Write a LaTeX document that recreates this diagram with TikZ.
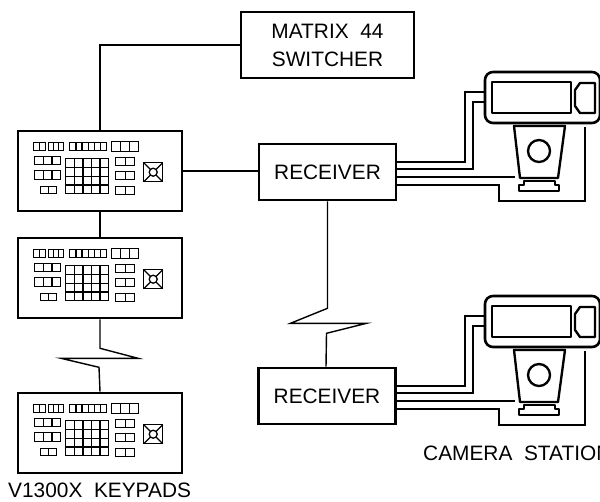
\documentclass[tikz,border=0pt]{standalone}
\usepackage{fontspec}
\setmainfont{Liberation Sans}
\usetikzlibrary{calc}

\tikzset{
  unit/.style={draw, line width=2.2pt, minimum width=#1},
  wire/.style={line width=1.2pt},
  part/.style={line width=2pt, line join=round},
  every node/.style={font=\fontsize{17.8}{24}\selectfont}
}

% one row of keys: x, y, width, height, number of keys
\newcommand{\keyrow}[5]{%
  \foreach \k in {1,...,#5}
    \draw ({#1+(\k-1)*(#3)/#5},#2) rectangle +({(#3)/#5},#4);}

% the face of a keypad, drawn inside the node #1
\newcommand{\keyface}[1]{%
  \begin{scope}[shift={(#1.north west)}, line width=1.1pt]
    \keyrow{17}{13}{12}{8}{2}
    \keyrow{32}{13}{15}{8}{3}
    \keyrow{53}{13}{37}{8}{6}
    \keyrow{95}{12}{27}{10}{3}
    \keyrow{18}{27}{26}{8}{3}
    \keyrow{18}{41}{26}{9}{3}
    \keyrow{24}{57}{16}{7}{2}
    \keyrow{99}{28}{19}{8}{2}
    \keyrow{99}{42}{19}{8}{2}
    \keyrow{99}{57}{19}{8}{2}
    \foreach \c in {0,...,4}
      \foreach \r in {0,...,3}
        \draw ({49+\c*8.6},{29+\r*8.75}) rectangle +(8.6,8.75);
    \draw (127,33) rectangle (146,52);
    \draw (136.5,42.5) circle[radius=0.12cm];
    \draw (127,33) -- (133.7,39.7);
    \draw (146,33) -- (139.3,39.7);
    \draw (127,52) -- (133.7,45.3);
    \draw (146,52) -- (139.3,45.3);
  \end{scope}}

\begin{document}
\begin{tikzpicture}[x=0.03cm, y=-0.03cm]
  \useasboundingbox (0,0) rectangle (600,501);

  \node[unit=5.19cm, minimum height=1.98cm, align=center] at (327.5,45) (mtx)
    {MATRIX\ \ 44\\SWITCHER};

  \node[unit=4.92cm, minimum height=2.4cm] at (100,171) (kp1) {};
  \node[unit=4.92cm, minimum height=2.4cm] at (100,278) (kp2) {};
  \node[unit=4.92cm, minimum height=2.4cm] at (100,433) (kp3) {};
  \keyface{kp1}
  \keyface{kp2}
  \keyface{kp3}
  \node[anchor=base west, inner sep=0] at (8,497) (kplabel) {V1300X\ \ KEYPADS};

  \node[unit=4.11cm, minimum height=1.68cm] at (327.5,172) (rx1) {RECEIVER};
  \node[unit=4.11cm, minimum height=1.68cm] at (327,396) (rx2) {RECEIVER};

  % camera stations
  \foreach \i/\s in {1/0, 2/224} {
    \begin{scope}[shift={(0,\s)}]
      \node[draw, line width=2.2pt, rounded corners=0.24cm, minimum width=3.45cm,
        minimum height=1.53cm] at (542.5,97.5) (cam\i) {};
      \draw[part] (492,82) rectangle (571,113);
      \draw[part] (580,83) -- (595,83) -- (595,113) -- (580,113) -- (575,106)
        -- (575,90) -- cycle;
      \draw[part] (514,126) -- (565,126) -- (558,178) -- (520,178) -- cycle;
      \draw[part] (539,151) circle[radius=0.33cm];
      \draw[part] (524,181) -- (555,181) -- (555,185) -- (559,185) -- (559,191)
        -- (519,191) -- (519,185) -- (524,185) -- cycle;
      \coordinate (upa\i) at (465,92);
      \coordinate (upb\i) at (473,102);
      \coordinate (tap\i) at (515,177);
      \coordinate (low\i) at (499,201);
      \coordinate (rear\i) at (585,127);
    \end{scope}
  }
  \node[anchor=base west, inner sep=0] at (423,460) (camlabel) {CAMERA\ \ STATION};

  \foreach \i in {1,2} {
    \draw[wire] ($(rx\i.east)+(0,-10)$) -| (upa\i) -- (upa\i -| cam\i.west);
    \draw[wire] ($(rx\i.east)+(0,-3)$) -| (upb\i) -- (upb\i -| cam\i.west);
    \draw[wire] ($(rx\i.east)+(0,5)$) -- (tap\i);
    \draw[wire] ($(rx\i.east)+(0,13)$) -| (low\i) -| (rear\i);
  }

  \draw[wire] (kp1.north) |- (mtx.west);
  \draw[wire] (kp1.east) -- (kp1.east -| rx1.west);
  \draw[wire] (kp1.south) -- (kp2.north);
  \draw[wire] (kp2.south) -- ++(0,29) -- ++(38,10) -- ++(-77,0) -- ++(38,9)
    -- (kp3.north);
  \draw[wire] (rx1.south) -- ++(0,107) -- ++(-37,15) -- ++(76,0) -- ++(-40,10)
    -- (rx2.north -| 326,0);
\end{tikzpicture}
\end{document}
